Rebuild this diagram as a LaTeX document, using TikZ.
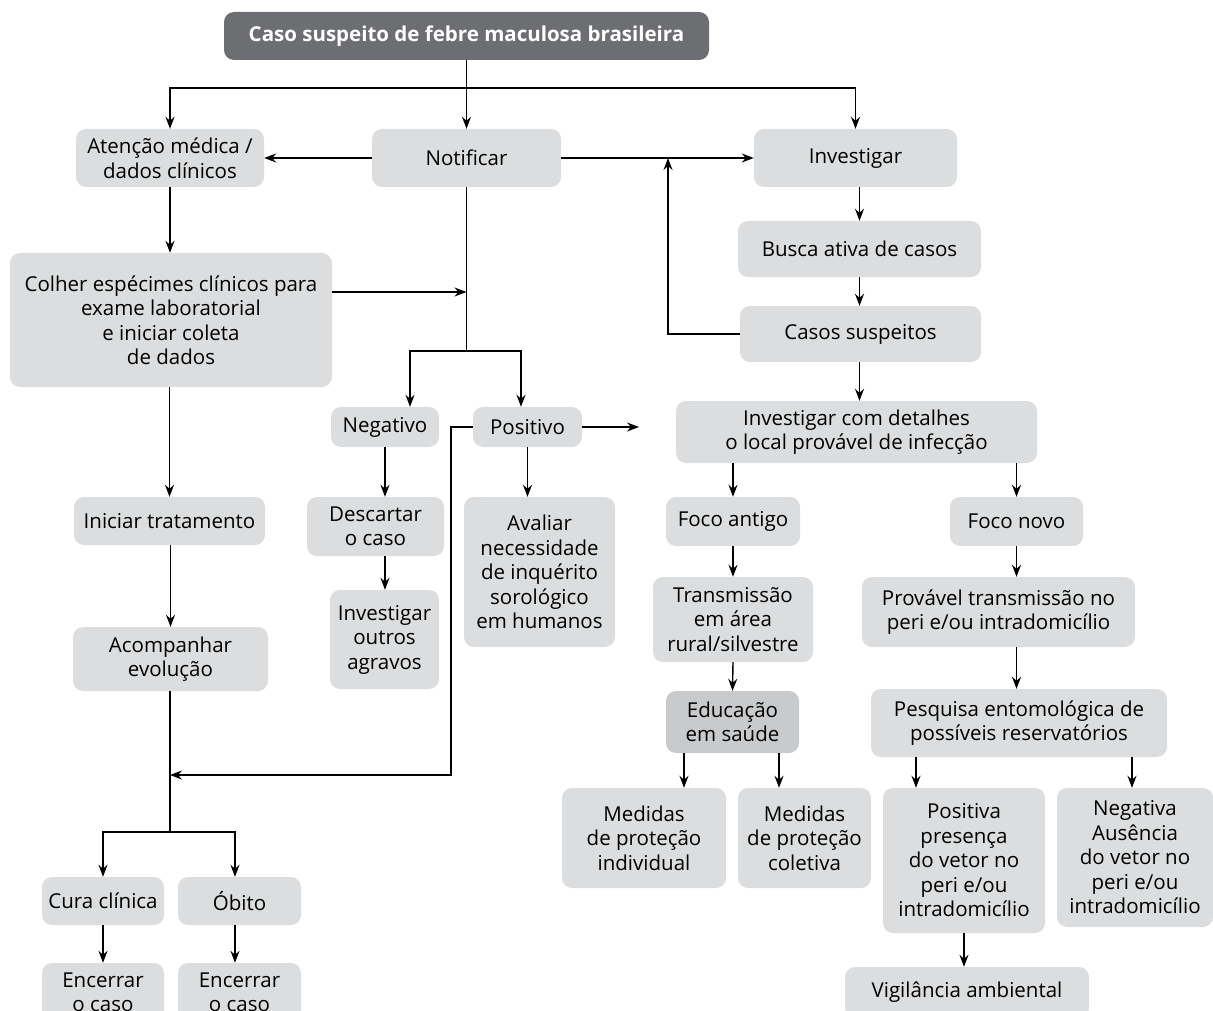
\documentclass[tikz,border=0pt]{standalone}
\usepackage{fontspec}
\setmainfont{Open Sans}
\usetikzlibrary{arrows.meta,calc}
\definecolor{boxgray}{HTML}{DCDDDE}
\definecolor{boxdark}{HTML}{C9CACC}
\definecolor{topgray}{HTML}{6D6E71}
\tikzset{
  box/.style={rectangle, rounded corners=10pt, fill=boxgray, draw=none, align=center,
    inner sep=2pt, font=\fontsize{20.5}{24.5}\selectfont, text=black},
  darkbox/.style={box, fill=boxdark},
  topbox/.style={box, fill=topgray, text=white, font=\fontsize{20.5}{24.5}\selectfont\bfseries},
  arr/.style={line width=1.4pt, -{Stealth[length=12pt,width=9pt,inset=4pt]}},
  ln/.style={line width=1.4pt}
}
\newcommand\bx[7][box]{\node[#1, minimum width={(#5-#3)*1pt}, minimum height={(#6-#4)*1pt}] (#2) at ({(#3+#5)/2},{(#4+#6)/2}) {#7};}
\begin{document}
\begin{tikzpicture}[x=1pt,y=-1pt]
\useasboundingbox (0,0) rectangle (1213,1011);
\clip (0,0) rectangle (1213,1011);
% nodes
\bx[topbox]{top}{224}{12}{709}{60}{Caso suspeito de febre maculosa brasileira}
\bx{aten}{76}{129}{264}{187}{Atenção médica /\\dados clínicos}
\bx{notif}{372}{129}{561}{187}{Notificar}
\bx{inv}{754}{129}{957}{187}{Investigar}
\bx{busca}{738}{221}{981}{277}{Busca ativa de casos}
\bx{casos}{740}{306}{981}{362}{Casos suspeitos}
\bx{colher}{10}{253}{332}{387}{Colher espécimes clínicos para\\exame laboratorial\\e iniciar coleta\\de dados}
\bx{neg}{331}{407}{439}{447}{Negativo}
\bx{pos}{473}{407}{582}{447}{Positivo}
\bx{desc}{307}{497}{444}{556}{Descartar\\o caso}
\bx{outros}{330}{590}{439}{689}{Investigar\\outros\\agravos}
\bx{aval}{464}{497}{615}{647}{Avaliar\\necessidade\\de inquérito\\sorológico\\em humanos}
\bx{det}{676}{401}{1037}{463}{Investigar com detalhes\\o local provável de infecção}
\bx{fa}{666}{497}{800}{546}{Foco antigo}
\bx{fn}{950}{497}{1083}{546}{Foco novo}
\bx{trans}{653}{577}{813}{662}{Transmissão\\em área\\rural/silvestre}
\bx{prov}{862}{577}{1135}{647}{Provável transmissão no\\peri e/ou intradomicílio}
\bx[darkbox]{edu}{666}{691}{799}{753}{Educação\\em saúde}
\bx{pesq}{871}{689}{1167}{757}{Pesquisa entomológica de\\possíveis reservatórios}
\bx{medi}{562}{788}{726}{888}{Medidas\\de proteção\\individual}
\bx{medc}{738}{788}{871}{888}{Medidas\\de proteção\\coletiva}
\bx{posv}{883}{788}{1045}{933}{Positiva\\presença\\do vetor no\\peri e/ou\\intradomicílio}
\bx{negv}{1057}{788}{1213}{927}{Negativa\\Ausência\\do vetor no\\peri e/ou\\intradomicílio}
\bx{vig}{845}{967}{1089}{1018}{Vigilância ambiental}
\bx{inic}{74}{497}{265}{545}{Iniciar tratamento}
\bx{acomp}{73}{627}{268}{691}{Acompanhar\\evolução}
\bx{cura}{42}{877}{164}{925}{Cura clínica}
\bx{obito}{178}{877}{301}{925}{Óbito}
\bx{enc1}{42}{963}{164}{1022}{Encerrar\\o caso}
\bx{enc2}{178}{963}{301}{1022}{Encerrar\\o caso}
% junction coordinates
\coordinate (tj) at (466.5,88);
\coordinate (cj) at (466.5,292);
\coordinate (nj) at (466.5,351);
\coordinate (upx) at (668,0);
\coordinate (pe) at (639,427);
\coordinate (acj) at (170,775);
\coordinate (sj) at (170,832);
\coordinate (fx) at (1016.5,0);
\coordinate (m1) at (684,0);
\coordinate (m2) at (779,0);
\coordinate (p1) at (916,0);
\coordinate (p2) at (1132,0);
\coordinate (negx) at (410,0);
\coordinate (posx) at (521,0);
\coordinate (obx) at (235,0);
% connectors top
\draw[ln] (top.south) -- (tj);
\draw[arr] (tj) -- (notif.north);
\draw[arr] (tj) -| (aten.north);
\draw[arr] (tj) -| (inv.north);
\draw[arr] (notif.west) -- (aten.east);
\draw[arr] (notif.east) -- (inv.west);
\draw[arr] (casos.west) -| (upx |- inv.west);
\draw[arr] (busca.north |- inv.south) -- (busca.north);
\draw[arr] (busca.south) -- (busca.south |- casos.north);
\draw[arr] (busca.south |- casos.south) -- (busca.south |- det.north);
% left column
\draw[arr] (aten.south) -- (aten.south |- colher.north);
\draw[arr] (colher.east |- cj) -- (cj);
\draw[arr] (colher.south -| inic.north) -- (inic.north);
\draw[arr] (inic.south -| acomp.north) -- (acomp.north);
\draw[ln] (acomp.south -| sj) -- (sj);
\draw[arr] (sj) -| (cura.north);
\draw[arr] (sj) -| (obx |- obito.north);
\draw[arr] (cura.south) -- (enc1.north);
\draw[arr] (obx |- obito.south) -- (obx |- enc2.north);
% notificar branch
\draw[ln] (notif.south) -- (nj);
\draw[arr] (nj) -| (negx |- neg.north);
\draw[arr] (nj) -| (posx |- pos.north);
\draw[arr] (pos.east) -- (pe);
\draw[arr] (pos.west) -- ++(-22,0) |- (acj);
\draw[arr] (neg.south) -- (neg.south |- desc.north);
\draw[arr] (neg.south |- desc.south) -- (neg.south |- outros.north);
\draw[arr] (pos.south) -- (pos.south |- aval.north);
% right tree
\draw[arr] (det.south -| fa.north) -- (fa.north);
\draw[arr] (det.south -| fn.north) -- (fn.north);
\draw[arr] (fa.south) -- (trans.north);
\draw[arr] (trans.south) -- (edu.north);
\draw[arr] (fx |- fn.south) -- (fx |- prov.north);
\draw[arr] (fx |- prov.south) -- (fx |- pesq.north);
\draw[arr] (m1 |- edu.south) -- (m1 |- medi.north);
\draw[arr] (m2 |- edu.south) -- (m2 |- medc.north);
\draw[arr] (p1 |- pesq.south) -- (p1 |- posv.north);
\draw[arr] (p2 |- pesq.south) -- (p2 |- negv.north);
\draw[arr] (posv.south) -- (posv.south |- vig.north);
\end{tikzpicture}
\end{document}
